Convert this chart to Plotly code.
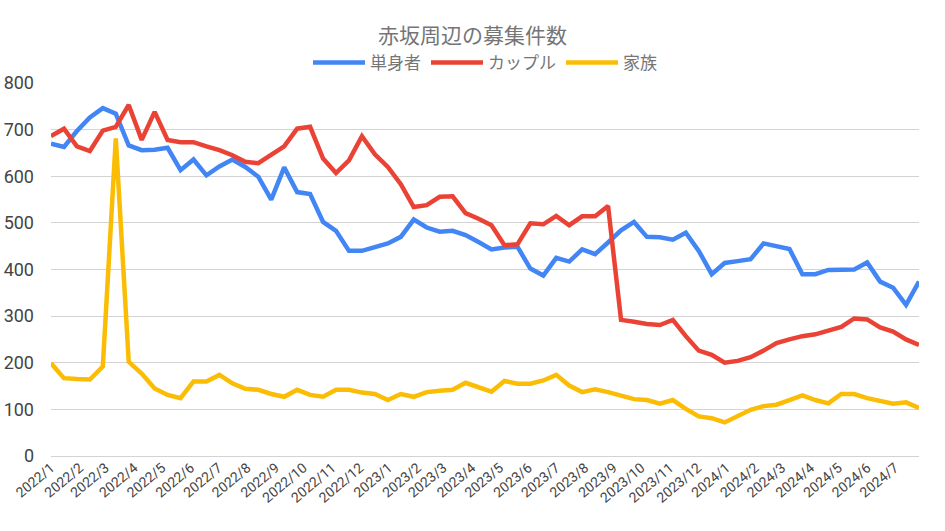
import pandas as pd
import plotly.graph_objects as go

# Biweekly observation dates (x axis)
dates = pd.date_range("2022-01-01", periods=68, freq="14D")

single = [670, 663, 697, 726, 746, 734, 666, 656, 657, 661,
          613, 636, 602, 621, 636, 620, 599, 550, 619, 566,
          562, 502, 483, 440, 440, 447, 456, 470, 507, 490,
          481, 483, 474, 459, 443, 447, 449, 402, 387, 425,
          417, 443, 433, 458, 484, 502, 470, 469, 464, 479,
          440, 390, 414, 418, 422, 456, 451, 444, 390, 390,
          399, 399, 400, 415, 374, 361, 324, 374]

couple = [686, 702, 664, 654, 698, 706, 753, 678, 738, 678,
          673, 673, 664, 656, 645, 631, 628, 645, 664, 702,
          706, 638, 607, 634, 686, 647, 620, 583, 534, 538,
          556, 557, 521, 509, 495, 452, 454, 499, 497, 515,
          495, 514, 514, 536, 292, 288, 283, 281, 292, 257,
          226, 217, 200, 204, 212, 226, 242, 250, 257, 261,
          269, 277, 295, 293, 276, 267, 250, 238]

family = [199, 167, 165, 164, 192, 681, 202, 177, 145, 131,
          124, 160, 160, 174, 156, 144, 142, 133, 127, 142,
          131, 127, 142, 142, 136, 133, 120, 133, 127, 137,
          140, 142, 157, 147, 138, 161, 155, 155, 162, 174,
          151, 137, 143, 137, 130, 122, 120, 112, 120, 101,
          85, 81, 72, 85, 99, 107, 110, 120, 130, 120,
          113, 133, 133, 124, 117, 112, 115, 103]

series_names = ["単身者", "カップル", "家族"]
colors = ["#4285F4", "#EA4335", "#FBBC04"]

fig = go.Figure()
for name, vals, col in zip(series_names, [single, couple, family], colors):
    fig.add_trace(go.Scatter(
        x=dates, y=vals, mode="lines", name=name,
        line=dict(color=col, width=4.5, shape="linear"),
    ))

font_family = "Roboto, 'Noto Sans CJK JP', sans-serif"

fig.update_layout(
    width=945, height=531,
    margin=dict(l=51, r=26, t=83, b=75, autoexpand=False),
    paper_bgcolor="white", plot_bgcolor="white",
    font=dict(family=font_family, color="#444444"),
    title=dict(text="赤坂周辺の募集件数", x=0.5, xanchor="center",
               y=1 - 36 / 531, yanchor="middle", yref="container",
               font=dict(size=21, color="#757575", family=font_family)),
    legend=dict(orientation="h", x=0.5, xanchor="center",
                y=1 + 20 / 373, yanchor="middle",
                font=dict(size=17, color="#757575"),
                itemwidth=52, bgcolor="rgba(0,0,0,0)"),
    showlegend=True,
)

fig.update_xaxes(
    type="date",
    range=[dates[0], dates[-1]],
    tick0="2022-01-01", dtick="M1",
    tickformat="%Y/%-m",
    tickangle=-40,
    tickfont=dict(size=14, color="#444444"),
    showgrid=False, zeroline=False, showline=False,
    ticks="", automargin=False,
)

fig.update_yaxes(
    range=[0, 800], dtick=100, tick0=0,
    showgrid=True, gridcolor="#d3d3d3", gridwidth=1,
    zeroline=True, zerolinecolor="#d3d3d3", zerolinewidth=1,
    showline=False, ticks="",
    tickfont=dict(size=18, color="#444444"),
    ticklabelstandoff=16, automargin=False,
)

fig.write_html("out.html", config={"displayModeBar": False},
               post_script="document.body.style.margin='0';")
